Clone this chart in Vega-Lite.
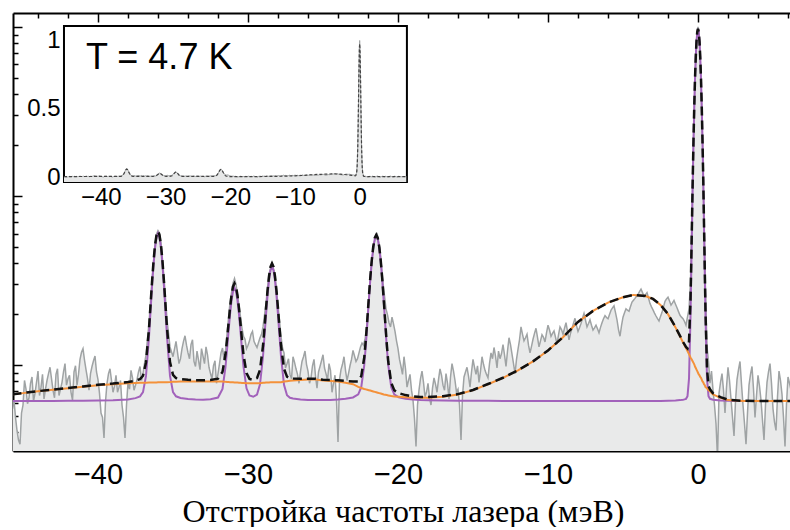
{
"$schema": "https://vega.github.io/schema/vega-lite/v6.json",
"width": 780, "height": 438,
"padding": {"left": 12, "top": 12, "right": 0, "bottom": 0},
"background": "white",
"config": {"view": {"stroke": null}, "axis": {"grid": false, "labelFont": "Liberation Sans", "titleFont": "Liberation Serif", "labelColor": "black", "tickColor": "black", "domainColor": "black", "titleColor": "black", "zindex": 1, "labelFlush": false, "labelOverlap": false}},
"datasets": {
"raw": [
{"x":-45.7,"y":0.0055},{"x":-45.6,"y":0.0062},{"x":-45.4,"y":0.0041},{"x":-45.2,"y":0.0034},{"x":-45.0,"y":0.0058},{"x":-44.8,"y":0.0072},{"x":-44.6,"y":0.0064},{"x":-44.4,"y":0.0085},{"x":-44.2,"y":0.0068},{"x":-44.0,"y":0.0092},{"x":-43.8,"y":0.0074},{"x":-43.6,"y":0.0063},{"x":-43.4,"y":0.0081},{"x":-43.2,"y":0.0097},{"x":-43.0,"y":0.0071},{"x":-42.8,"y":0.0088},{"x":-42.6,"y":0.0066},{"x":-42.4,"y":0.0079},{"x":-42.2,"y":0.0102},{"x":-42.0,"y":0.0083},{"x":-41.8,"y":0.0069},{"x":-41.6,"y":0.0091},{"x":-41.4,"y":0.0076},{"x":-41.2,"y":0.0108},{"x":-41.0,"y":0.0125},{"x":-40.8,"y":0.0094},{"x":-40.6,"y":0.0071},{"x":-40.4,"y":0.0098},{"x":-40.2,"y":0.0113},{"x":-40.0,"y":0.0082},{"x":-39.8,"y":0.0052},{"x":-39.6,"y":0.0037},{"x":-39.4,"y":0.0078},{"x":-39.2,"y":0.0095},{"x":-39.0,"y":0.0069},{"x":-38.8,"y":0.0087},{"x":-38.6,"y":0.0074},{"x":-38.4,"y":0.0058},{"x":-38.2,"y":0.0037},{"x":-38.0,"y":0.0079},{"x":-37.8,"y":0.0093},{"x":-37.6,"y":0.0071},{"x":-37.4,"y":0.0082},{"x":-37.2,"y":0.0098},{"x":-37.0,"y":0.0089},{"x":-36.8,"y":0.0115},{"x":-36.6,"y":0.0178},{"x":-36.4,"y":0.032},{"x":-36.2,"y":0.052},{"x":-36.1,"y":0.0595},{"x":-36.0,"y":0.0625},{"x":-35.9,"y":0.0605},{"x":-35.8,"y":0.053},{"x":-35.6,"y":0.033},{"x":-35.4,"y":0.0185},{"x":-35.2,"y":0.0128},{"x":-35.0,"y":0.0112},{"x":-34.8,"y":0.0138},{"x":-34.6,"y":0.0102},{"x":-34.4,"y":0.0125},{"x":-34.2,"y":0.0149},{"x":-34.0,"y":0.0118},{"x":-33.8,"y":0.0132},{"x":-33.6,"y":0.0105},{"x":-33.4,"y":0.0121},{"x":-33.2,"y":0.0094},{"x":-33.0,"y":0.0113},{"x":-32.8,"y":0.0128},{"x":-32.6,"y":0.0097},{"x":-32.4,"y":0.0083},{"x":-32.2,"y":0.0106},{"x":-32.0,"y":0.0089},{"x":-31.8,"y":0.0118},{"x":-31.6,"y":0.0108},{"x":-31.4,"y":0.0152},{"x":-31.2,"y":0.0235},{"x":-31.0,"y":0.0305},{"x":-30.9,"y":0.0325},{"x":-30.8,"y":0.03},{"x":-30.6,"y":0.0225},{"x":-30.4,"y":0.0165},{"x":-30.2,"y":0.0142},{"x":-30.0,"y":0.0131},{"x":-29.8,"y":0.0152},{"x":-29.6,"y":0.0138},{"x":-29.4,"y":0.0127},{"x":-29.2,"y":0.0145},{"x":-29.0,"y":0.0168},{"x":-28.8,"y":0.0232},{"x":-28.6,"y":0.0345},{"x":-28.4,"y":0.0405},{"x":-28.2,"y":0.034},{"x":-28.0,"y":0.0225},{"x":-27.8,"y":0.0148},{"x":-27.6,"y":0.0118},{"x":-27.4,"y":0.0102},{"x":-27.2,"y":0.0088},{"x":-27.0,"y":0.0112},{"x":-26.8,"y":0.0095},{"x":-26.6,"y":0.0078},{"x":-26.4,"y":0.0105},{"x":-26.2,"y":0.0121},{"x":-26.0,"y":0.0092},{"x":-25.8,"y":0.0084},{"x":-25.6,"y":0.0108},{"x":-25.4,"y":0.0073},{"x":-25.2,"y":0.0098},{"x":-25.0,"y":0.0115},{"x":-24.8,"y":0.0089},{"x":-24.6,"y":0.0102},{"x":-24.4,"y":0.0069},{"x":-24.2,"y":0.0087},{"x":-24.0,"y":0.0035},{"x":-23.8,"y":0.0094},{"x":-23.6,"y":0.0112},{"x":-23.4,"y":0.0081},{"x":-23.2,"y":0.0099},{"x":-23.0,"y":0.0122},{"x":-22.8,"y":0.0105},{"x":-22.6,"y":0.0118},{"x":-22.4,"y":0.0135},{"x":-22.2,"y":0.0142},{"x":-22.0,"y":0.0215},{"x":-21.8,"y":0.0375},{"x":-21.6,"y":0.0525},{"x":-21.4,"y":0.0605},{"x":-21.2,"y":0.0485},{"x":-21.0,"y":0.0305},{"x":-20.8,"y":0.0215},{"x":-20.6,"y":0.0178},{"x":-20.4,"y":0.0192},{"x":-20.2,"y":0.0158},{"x":-20.0,"y":0.0125},{"x":-19.8,"y":0.0098},{"x":-19.6,"y":0.0112},{"x":-19.4,"y":0.0074},{"x":-19.2,"y":0.0088},{"x":-19.0,"y":0.0062},{"x":-18.8,"y":0.0033},{"x":-18.6,"y":0.0071},{"x":-18.4,"y":0.0092},{"x":-18.2,"y":0.0065},{"x":-18.0,"y":0.0078},{"x":-17.8,"y":0.0058},{"x":-17.6,"y":0.0084},{"x":-17.4,"y":0.0069},{"x":-17.2,"y":0.0095},{"x":-17.0,"y":0.0076},{"x":-16.8,"y":0.0089},{"x":-16.6,"y":0.0063},{"x":-16.4,"y":0.0102},{"x":-16.2,"y":0.0081},{"x":-16.0,"y":0.0072},{"x":-15.8,"y":0.0036},{"x":-15.6,"y":0.0085},{"x":-15.4,"y":0.0097},{"x":-15.2,"y":0.0074},{"x":-15.0,"y":0.0108},{"x":-14.8,"y":0.0088},{"x":-14.6,"y":0.0079},{"x":-14.4,"y":0.0112},{"x":-14.2,"y":0.0093},{"x":-14.0,"y":0.0084},{"x":-13.8,"y":0.0118},{"x":-13.6,"y":0.0127},{"x":-13.4,"y":0.0096},{"x":-13.2,"y":0.0109},{"x":-13.0,"y":0.0132},{"x":-12.8,"y":0.0098},{"x":-12.6,"y":0.0145},{"x":-12.4,"y":0.0116},{"x":-12.2,"y":0.0089},{"x":-12.0,"y":0.0124},{"x":-11.8,"y":0.0168},{"x":-11.6,"y":0.0139},{"x":-11.4,"y":0.0152},{"x":-11.2,"y":0.0118},{"x":-11.0,"y":0.0142},{"x":-10.8,"y":0.0165},{"x":-10.6,"y":0.0128},{"x":-10.4,"y":0.0151},{"x":-10.2,"y":0.0137},{"x":-10.0,"y":0.0172},{"x":-9.8,"y":0.0148},{"x":-9.6,"y":0.0159},{"x":-9.4,"y":0.0133},{"x":-9.2,"y":0.0168},{"x":-9.0,"y":0.0152},{"x":-8.8,"y":0.0178},{"x":-8.6,"y":0.0141},{"x":-8.4,"y":0.0165},{"x":-8.2,"y":0.0189},{"x":-8.0,"y":0.0158},{"x":-7.8,"y":0.0176},{"x":-7.6,"y":0.0202},{"x":-7.4,"y":0.0168},{"x":-7.2,"y":0.0185},{"x":-7.0,"y":0.0161},{"x":-6.8,"y":0.0172},{"x":-6.6,"y":0.0155},{"x":-6.4,"y":0.0178},{"x":-6.2,"y":0.0196},{"x":-6.0,"y":0.0188},{"x":-5.8,"y":0.0211},{"x":-5.6,"y":0.0224},{"x":-5.4,"y":0.0185},{"x":-5.2,"y":0.0148},{"x":-5.0,"y":0.0192},{"x":-4.8,"y":0.0215},{"x":-4.6,"y":0.0208},{"x":-4.4,"y":0.0236},{"x":-4.2,"y":0.0248},{"x":-4.0,"y":0.0262},{"x":-3.8,"y":0.0281},{"x":-3.6,"y":0.0255},{"x":-3.4,"y":0.0268},{"x":-3.2,"y":0.0231},{"x":-3.0,"y":0.0212},{"x":-2.8,"y":0.0195},{"x":-2.6,"y":0.0182},{"x":-2.4,"y":0.0205},{"x":-2.2,"y":0.0238},{"x":-2.0,"y":0.0252},{"x":-1.8,"y":0.0226},{"x":-1.6,"y":0.0241},{"x":-1.4,"y":0.0218},{"x":-1.2,"y":0.0197},{"x":-1.0,"y":0.0188},{"x":-0.8,"y":0.0172},{"x":-0.6,"y":0.0215},{"x":-0.5,"y":0.031},{"x":-0.4,"y":0.078},{"x":-0.3,"y":0.22},{"x":-0.2,"y":0.5},{"x":-0.1,"y":0.83},{"x":-0.05,"y":0.95},{"x":0,"y":1.0},{"x":0.05,"y":0.94},{"x":0.1,"y":0.82},{"x":0.2,"y":0.49},{"x":0.3,"y":0.215},{"x":0.4,"y":0.074},{"x":0.5,"y":0.028},{"x":0.6,"y":0.0128},{"x":0.7,"y":0.0105},{"x":0.8,"y":0.0078},{"x":0.9,"y":0.0092},{"x":1.0,"y":0.0071},{"x":1.2,"y":0.0045},{"x":1.3,"y":0.0028},{"x":1.4,"y":0.0068},{"x":1.6,"y":0.0089},{"x":1.8,"y":0.0052},{"x":2.0,"y":0.0097},{"x":2.2,"y":0.0063},{"x":2.4,"y":0.0038},{"x":2.6,"y":0.0082},{"x":2.8,"y":0.0105},{"x":3.0,"y":0.0058},{"x":3.2,"y":0.0034},{"x":3.4,"y":0.0076},{"x":3.6,"y":0.0098},{"x":3.8,"y":0.0049},{"x":4.0,"y":0.0087},{"x":4.2,"y":0.0062},{"x":4.4,"y":0.0036},{"x":4.6,"y":0.0079},{"x":4.8,"y":0.0102},{"x":5.0,"y":0.0055},{"x":5.2,"y":0.0041},{"x":5.4,"y":0.0092},{"x":5.6,"y":0.0067},{"x":5.8,"y":0.0033},{"x":6.0,"y":0.0085},{"x":6.2,"y":0.0071},{"x":6.4,"y":0.0058},{"x":6.6,"y":0.0064},{"x":6.8,"y":0.0072},{"x":7.0,"y":0.0061},{"x":7.2,"y":0.0066},
{"x":-45.5,"y":0.0049},{"x":-45.3,"y":0.0036},{"x":-45.1,"y":0.0052},{"x":-44.9,"y":0.0081},{"x":-44.7,"y":0.0059},{"x":-44.5,"y":0.0078},{"x":-44.3,"y":0.0061},{"x":-44.1,"y":0.0079},{"x":-43.9,"y":0.0066},{"x":-43.7,"y":0.0088},{"x":-43.5,"y":0.0072},{"x":-43.3,"y":0.0089},{"x":-43.1,"y":0.0083},{"x":-42.9,"y":0.0064},{"x":-42.7,"y":0.0095},{"x":-42.5,"y":0.0072},{"x":-42.3,"y":0.0091},{"x":-42.1,"y":0.0076},{"x":-41.9,"y":0.0087},{"x":-41.7,"y":0.0062},{"x":-41.5,"y":0.0099},{"x":-41.3,"y":0.0088},{"x":-41.1,"y":0.0119},{"x":-40.9,"y":0.0107},{"x":-40.7,"y":0.0083},{"x":-40.5,"y":0.0089},{"x":-40.3,"y":0.0106},{"x":-40.1,"y":0.0091},{"x":-39.9,"y":0.0068},{"x":-39.7,"y":0.0049},{"x":-39.5,"y":0.0061},{"x":-39.3,"y":0.0089},{"x":-39.1,"y":0.0081},{"x":-38.9,"y":0.0075},{"x":-38.7,"y":0.0069},{"x":-38.5,"y":0.0081},{"x":-38.3,"y":0.0049},{"x":-38.1,"y":0.0058},{"x":-37.9,"y":0.0072},{"x":-37.7,"y":0.0084},{"x":-37.5,"y":0.0076},{"x":-37.3,"y":0.0091},{"x":-37.1,"y":0.0081},{"x":-36.9,"y":0.0102},
{"x":-34.7,"y":0.0119},{"x":-34.5,"y":0.0109},{"x":-34.3,"y":0.0138},{"x":-34.1,"y":0.0131},{"x":-33.9,"y":0.0109},{"x":-33.7,"y":0.0141},{"x":-33.5,"y":0.0098},{"x":-33.3,"y":0.0107},{"x":-33.1,"y":0.0125},{"x":-32.9,"y":0.0102},{"x":-32.7,"y":0.0115},{"x":-32.5,"y":0.0089},{"x":-32.3,"y":0.0099},{"x":-32.1,"y":0.0078},{"x":-31.9,"y":0.0102},{"x":-31.7,"y":0.0126},{"x":-31.5,"y":0.0121},
{"x":-30.3,"y":0.0148},{"x":-30.1,"y":0.0125},{"x":-29.9,"y":0.0139},{"x":-29.7,"y":0.0158},{"x":-29.5,"y":0.0132},{"x":-29.3,"y":0.0136},{"x":-29.1,"y":0.0152},
{"x":-27.7,"y":0.0126},{"x":-27.5,"y":0.0096},{"x":-27.3,"y":0.0109},{"x":-27.1,"y":0.0083},{"x":-26.9,"y":0.0104},{"x":-26.7,"y":0.0088},{"x":-26.5,"y":0.0092},{"x":-26.3,"y":0.0112},{"x":-26.1,"y":0.0101},{"x":-25.9,"y":0.0078},{"x":-25.7,"y":0.0099},{"x":-25.5,"y":0.0086},{"x":-25.3,"y":0.0091},{"x":-25.1,"y":0.0106},{"x":-24.9,"y":0.0096},{"x":-24.7,"y":0.0081},{"x":-24.5,"y":0.0093},{"x":-24.3,"y":0.0078},{"x":-24.1,"y":0.0062},{"x":-23.9,"y":0.0082},{"x":-23.7,"y":0.0101},{"x":-23.5,"y":0.0093},{"x":-23.3,"y":0.0089},{"x":-23.1,"y":0.0108},{"x":-22.9,"y":0.0113},{"x":-22.7,"y":0.0109},{"x":-22.5,"y":0.0128},{"x":-22.3,"y":0.0131},{"x":-22.1,"y":0.0165},
{"x":-20.7,"y":0.0198},{"x":-20.5,"y":0.0168},{"x":-20.3,"y":0.0175},{"x":-20.1,"y":0.0139},{"x":-19.9,"y":0.0108},{"x":-19.7,"y":0.0088},{"x":-19.5,"y":0.0095},{"x":-19.3,"y":0.0081},{"x":-19.1,"y":0.0071},{"x":-18.9,"y":0.0048},{"x":-18.7,"y":0.0058},{"x":-18.5,"y":0.0083},{"x":-18.3,"y":0.0079},{"x":-18.1,"y":0.0069},{"x":-17.9,"y":0.0064},{"x":-17.7,"y":0.0073},{"x":-17.5,"y":0.0077},{"x":-17.3,"y":0.0082},{"x":-17.1,"y":0.0087},{"x":-16.9,"y":0.0071},{"x":-16.7,"y":0.0078},{"x":-16.5,"y":0.0085},{"x":-16.3,"y":0.0092},{"x":-16.1,"y":0.0069},{"x":-15.9,"y":0.0058},{"x":-15.7,"y":0.0066},{"x":-15.5,"y":0.0091},{"x":-15.3,"y":0.0086},{"x":-15.1,"y":0.0091},{"x":-14.9,"y":0.0097},{"x":-14.7,"y":0.0099},{"x":-14.5,"y":0.0092},{"x":-14.3,"y":0.0101},{"x":-14.1,"y":0.0088},{"x":-13.9,"y":0.0102},{"x":-13.7,"y":0.0109},{"x":-13.5,"y":0.0113},{"x":-13.3,"y":0.0121},{"x":-13.1,"y":0.0117},{"x":-12.9,"y":0.0115},{"x":-12.7,"y":0.0121},{"x":-12.5,"y":0.0132},{"x":-12.3,"y":0.0102},{"x":-12.1,"y":0.0108},{"x":-11.9,"y":0.0141},{"x":-11.7,"y":0.0152},{"x":-11.5,"y":0.0145},{"x":-11.3,"y":0.0131},{"x":-11.1,"y":0.0129},{"x":-10.9,"y":0.0154},{"x":-10.7,"y":0.0146},{"x":-10.5,"y":0.0139},{"x":-10.3,"y":0.0146},{"x":-10.1,"y":0.0155},{"x":-9.9,"y":0.0161},{"x":-9.7,"y":0.0154},{"x":-9.5,"y":0.0146},{"x":-9.3,"y":0.0151},{"x":-9.1,"y":0.0162},{"x":-8.9,"y":0.0165},{"x":-8.7,"y":0.0158},{"x":-8.5,"y":0.0154},{"x":-8.3,"y":0.0177},{"x":-8.1,"y":0.0171},{"x":-7.9,"y":0.0166},{"x":-7.7,"y":0.0189},{"x":-7.5,"y":0.0184},{"x":-7.3,"y":0.0176},{"x":-7.1,"y":0.0172},{"x":-6.9,"y":0.0166},{"x":-6.7,"y":0.0164},{"x":-6.5,"y":0.0167},{"x":-6.3,"y":0.0188},{"x":-6.1,"y":0.0191},{"x":-5.9,"y":0.0199},{"x":-5.7,"y":0.0218},{"x":-5.5,"y":0.0204},{"x":-5.3,"y":0.0162},{"x":-5.1,"y":0.0171},{"x":-4.9,"y":0.0204},{"x":-4.7,"y":0.0211},{"x":-4.5,"y":0.0222},{"x":-4.3,"y":0.0242},{"x":-4.1,"y":0.0255},{"x":-3.9,"y":0.0272},{"x":-3.7,"y":0.0268},{"x":-3.5,"y":0.0261},{"x":-3.3,"y":0.0249},{"x":-3.1,"y":0.0221},{"x":-2.9,"y":0.0203},{"x":-2.7,"y":0.0188},{"x":-2.5,"y":0.0194},{"x":-2.3,"y":0.0221},{"x":-2.1,"y":0.0246},{"x":-1.9,"y":0.0239},{"x":-1.7,"y":0.0233},{"x":-1.5,"y":0.0229},{"x":-1.3,"y":0.0207},{"x":-1.1,"y":0.0192},{"x":-0.9,"y":0.0181},{"x":-0.7,"y":0.0193},
{"x":1.1,"y":0.0058},{"x":1.5,"y":0.0079},{"x":1.7,"y":0.0071},{"x":1.9,"y":0.0074},{"x":2.1,"y":0.0081},{"x":2.3,"y":0.0049},{"x":2.5,"y":0.0061},{"x":2.7,"y":0.0094},{"x":2.9,"y":0.0077},{"x":3.1,"y":0.0045},{"x":3.3,"y":0.0052},{"x":3.5,"y":0.0088},{"x":3.7,"y":0.0072},{"x":3.9,"y":0.0066},{"x":4.1,"y":0.0075},{"x":4.3,"y":0.0047},{"x":4.5,"y":0.0058},{"x":4.7,"y":0.0091},{"x":4.9,"y":0.0078},{"x":5.1,"y":0.0046},{"x":5.3,"y":0.0065},{"x":5.5,"y":0.0081},{"x":5.7,"y":0.0049},{"x":5.9,"y":0.0059},{"x":6.1,"y":0.0078},{"x":6.3,"y":0.0063},{"x":6.5,"y":0.0061},{"x":6.7,"y":0.0069},{"x":6.9,"y":0.0066},{"x":7.1,"y":0.0063}
],
"fit": [
{"x":-45.7,"p":0.00613,"o":0.0067,"t":0.0067},{"x":-45,"p":0.00613,"o":0.00682,"t":0.00683},{"x":-44,"p":0.00613,"o":0.007,"t":0.00701},{"x":-43,"p":0.00613,"o":0.00715,"t":0.00716},{"x":-42,"p":0.00614,"o":0.0073,"t":0.00732},{"x":-41,"p":0.00614,"o":0.00745,"t":0.00747},{"x":-40,"p":0.00616,"o":0.0076,"t":0.00764},{"x":-39,"p":0.00619,"o":0.0077,"t":0.00777},{"x":-38,"p":0.00626,"o":0.0078,"t":0.00794},{"x":-37.5,"p":0.00637,"o":0.00783,"t":0.00808},{"x":-37.2,"p":0.00653,"o":0.00785,"t":0.00826},{"x":-37.0,"p":0.00691,"o":0.00785,"t":0.00864},{"x":-36.8,"p":0.00862,"o":0.00786,"t":0.01036},{"x":-36.6,"p":0.01471,"o":0.00788,"t":0.01647},{"x":-36.5,"p":0.02078,"o":0.00788,"t":0.02254},{"x":-36.4,"p":0.02912,"o":0.00788,"t":0.03088},{"x":-36.3,"p":0.03912,"o":0.00789,"t":0.04088},{"x":-36.2,"p":0.04922,"o":0.00789,"t":0.05098},{"x":-36.1,"p":0.05702,"o":0.00789,"t":0.05878},{"x":-36.0,"p":0.06012,"o":0.0079,"t":0.06188},{"x":-35.9,"p":0.05702,"o":0.0079,"t":0.0588},{"x":-35.8,"p":0.04922,"o":0.0079,"t":0.05102},{"x":-35.7,"p":0.03912,"o":0.00791,"t":0.04092},{"x":-35.6,"p":0.02912,"o":0.00791,"t":0.03092},{"x":-35.5,"p":0.02078,"o":0.00791,"t":0.0226},{"x":-35.4,"p":0.01471,"o":0.00792,"t":0.01653},{"x":-35.2,"p":0.00862,"o":0.00793,"t":0.01042},{"x":-35.0,"p":0.00691,"o":0.00795,"t":0.00874},{"x":-34.8,"p":0.00653,"o":0.00796,"t":0.00837},{"x":-34.5,"p":0.00639,"o":0.00798,"t":0.00825},{"x":-34,"p":0.00629,"o":0.008,"t":0.00817},{"x":-33.5,"p":0.00625,"o":0.008,"t":0.00813},{"x":-33,"p":0.00624,"o":0.008,"t":0.00812},{"x":-32.5,"p":0.00628,"o":0.008,"t":0.00816},{"x":-32,"p":0.00642,"o":0.008,"t":0.0083},{"x":-31.7,"p":0.00723,"o":0.008,"t":0.00911},{"x":-31.5,"p":0.00975,"o":0.00795,"t":0.01158},{"x":-31.4,"p":0.01227,"o":0.00794,"t":0.0141},{"x":-31.3,"p":0.01573,"o":0.00793,"t":0.01756},{"x":-31.2,"p":0.01988,"o":0.00792,"t":0.02168},{"x":-31.1,"p":0.02407,"o":0.00791,"t":0.02586},{"x":-31.0,"p":0.02731,"o":0.0079,"t":0.02909},{"x":-30.9,"p":0.0286,"o":0.00789,"t":0.03037},{"x":-30.8,"p":0.02732,"o":0.00788,"t":0.02908},{"x":-30.7,"p":0.02408,"o":0.00787,"t":0.02583},{"x":-30.6,"p":0.0199,"o":0.00786,"t":0.02164},{"x":-30.5,"p":0.01576,"o":0.00785,"t":0.01749},{"x":-30.4,"p":0.0123,"o":0.00784,"t":0.01402},{"x":-30.3,"p":0.00979,"o":0.00783,"t":0.0115},{"x":-30.1,"p":0.00728,"o":0.00781,"t":0.00897},{"x":-29.9,"p":0.0066,"o":0.0078,"t":0.00828},{"x":-29.65,"p":0.00649,"o":0.0078,"t":0.00817},{"x":-29.4,"p":0.00669,"o":0.0078,"t":0.00837},{"x":-29.2,"p":0.00768,"o":0.0078,"t":0.00936},{"x":-29.0,"p":0.01127,"o":0.00785,"t":0.013},{"x":-28.9,"p":0.01487,"o":0.00786,"t":0.01661},{"x":-28.8,"p":0.0198,"o":0.00787,"t":0.02155},{"x":-28.7,"p":0.02572,"o":0.00788,"t":0.02748},{"x":-28.6,"p":0.03171,"o":0.00789,"t":0.03348},{"x":-28.5,"p":0.03635,"o":0.0079,"t":0.03813},{"x":-28.4,"p":0.03816,"o":0.0079,"t":0.03994},{"x":-28.3,"p":0.03634,"o":0.0079,"t":0.03812},{"x":-28.2,"p":0.0317,"o":0.0079,"t":0.03348},{"x":-28.1,"p":0.02571,"o":0.0079,"t":0.02749},{"x":-28.0,"p":0.01979,"o":0.0079,"t":0.02157},{"x":-27.9,"p":0.01485,"o":0.00791,"t":0.01664},{"x":-27.8,"p":0.01125,"o":0.00792,"t":0.01305},{"x":-27.6,"p":0.00764,"o":0.00798,"t":0.0095},{"x":-27.4,"p":0.00663,"o":0.00802,"t":0.00853},{"x":-27.2,"p":0.0064,"o":0.00806,"t":0.00834},{"x":-27,"p":0.00634,"o":0.0081,"t":0.00832},{"x":-26.5,"p":0.00626,"o":0.00815,"t":0.00829},{"x":-26,"p":0.00622,"o":0.0082,"t":0.0083},{"x":-25.5,"p":0.00621,"o":0.0082,"t":0.00829},{"x":-25,"p":0.00621,"o":0.0081,"t":0.00819},{"x":-24.5,"p":0.00622,"o":0.00805,"t":0.00815},{"x":-24,"p":0.00625,"o":0.008,"t":0.00813},{"x":-23.5,"p":0.00631,"o":0.00785,"t":0.00804},{"x":-23,"p":0.00643,"o":0.0077,"t":0.008},{"x":-22.65,"p":0.0067,"o":0.00742,"t":0.008},{"x":-22.45,"p":0.0074,"o":0.00732,"t":0.0086},{"x":-22.25,"p":0.01,"o":0.00722,"t":0.0111},{"x":-22.15,"p":0.01288,"o":0.00718,"t":0.01394},{"x":-22.05,"p":0.01735,"o":0.00714,"t":0.01837},{"x":-21.95,"p":0.0237,"o":0.0071,"t":0.02468},{"x":-21.85,"p":0.03172,"o":0.00706,"t":0.03266},{"x":-21.75,"p":0.04072,"o":0.00702,"t":0.04162},{"x":-21.65,"p":0.04932,"o":0.00698,"t":0.05018},{"x":-21.55,"p":0.05572,"o":0.00694,"t":0.05654},{"x":-21.45,"p":0.05812,"o":0.0069,"t":0.0589},{"x":-21.35,"p":0.05572,"o":0.00686,"t":0.05646},{"x":-21.25,"p":0.04932,"o":0.00682,"t":0.05002},{"x":-21.15,"p":0.04072,"o":0.00678,"t":0.04138},{"x":-21.05,"p":0.03172,"o":0.00674,"t":0.03234},{"x":-20.95,"p":0.0237,"o":0.0067,"t":0.02428},{"x":-20.85,"p":0.01735,"o":0.00667,"t":0.0179},{"x":-20.75,"p":0.01288,"o":0.00664,"t":0.0134},{"x":-20.65,"p":0.01,"o":0.00661,"t":0.01049},{"x":-20.45,"p":0.0074,"o":0.00655,"t":0.00783},{"x":-20.25,"p":0.0067,"o":0.00651,"t":0.00709},{"x":-19.95,"p":0.00644,"o":0.0065,"t":0.00682},{"x":-19.5,"p":0.00631,"o":0.00645,"t":0.00664},{"x":-19,"p":0.00625,"o":0.0064,"t":0.00653},{"x":-18.5,"p":0.0062,"o":0.0064,"t":0.00648},{"x":-18,"p":0.00618,"o":0.0064,"t":0.00646},{"x":-17,"p":0.00616,"o":0.0065,"t":0.00654},{"x":-16,"p":0.00615,"o":0.0067,"t":0.00673},{"x":-15,"p":0.00614,"o":0.0071,"t":0.00712},{"x":-14,"p":0.00614,"o":0.0077,"t":0.00772},{"x":-13,"p":0.00613,"o":0.0084,"t":0.00841},{"x":-12,"p":0.00613,"o":0.0093,"t":0.00931},{"x":-11,"p":0.00613,"o":0.0105,"t":0.01051},{"x":-10,"p":0.00613,"o":0.0122,"t":0.0122},{"x":-9,"p":0.00613,"o":0.0146,"t":0.0146},{"x":-8,"p":0.00613,"o":0.018,"t":0.018},{"x":-7,"p":0.00613,"o":0.0209,"t":0.0209},{"x":-6,"p":0.00613,"o":0.0234,"t":0.0234},{"x":-5,"p":0.00613,"o":0.0252,"t":0.0252},{"x":-4.3,"p":0.00613,"o":0.026,"t":0.026},{"x":-3.5,"p":0.00613,"o":0.0256,"t":0.0256},{"x":-3,"p":0.00613,"o":0.0246,"t":0.0246},{"x":-2.5,"p":0.00613,"o":0.0227,"t":0.0227},{"x":-2,"p":0.00615,"o":0.02,"t":0.02003},{"x":-1.5,"p":0.00617,"o":0.0167,"t":0.01675},{"x":-1.2,"p":0.0062,"o":0.0148,"t":0.01488},{"x":-1.0,"p":0.00623,"o":0.0136,"t":0.01371},{"x":-0.9,"p":0.00626,"o":0.0131,"t":0.01324},{"x":-0.8,"p":0.00631,"o":0.0126,"t":0.01279},{"x":-0.7,"p":0.00654,"o":0.0121,"t":0.01252},{"x":-0.6,"p":0.00831,"o":0.0116,"t":0.01379},{"x":-0.5,"p":0.01927,"o":0.0111,"t":0.02425},{"x":-0.45,"p":0.03562,"o":0.0109,"t":0.0404},{"x":-0.4,"p":0.06722,"o":0.0107,"t":0.0718},{"x":-0.35,"p":0.1231,"o":0.0105,"t":0.1275},{"x":-0.3,"p":0.2111,"o":0.0103,"t":0.2153},{"x":-0.25,"p":0.3341,"o":0.0101,"t":0.3381},{"x":-0.2,"p":0.4901,"o":0.0098,"t":0.4938},{"x":-0.15,"p":0.6611,"o":0.0096,"t":0.6646},{"x":-0.1,"p":0.8191,"o":0.0094,"t":0.8224},{"x":-0.05,"p":0.9321,"o":0.0092,"t":0.9352},{"x":0,"p":0.9731,"o":0.009,"t":0.976},{"x":0.05,"p":0.9321,"o":0.0088,"t":0.9348},{"x":0.1,"p":0.8191,"o":0.0087,"t":0.8217},{"x":0.15,"p":0.6611,"o":0.0085,"t":0.6635},{"x":0.2,"p":0.4901,"o":0.0084,"t":0.4924},{"x":0.25,"p":0.3341,"o":0.0082,"t":0.3362},{"x":0.3,"p":0.2111,"o":0.008,"t":0.213},{"x":0.35,"p":0.1231,"o":0.0079,"t":0.1249},{"x":0.4,"p":0.06722,"o":0.0077,"t":0.0688},{"x":0.45,"p":0.03562,"o":0.0076,"t":0.0371},{"x":0.5,"p":0.01927,"o":0.0074,"t":0.02055},{"x":0.6,"p":0.00831,"o":0.0073,"t":0.00949},{"x":0.7,"p":0.00654,"o":0.0071,"t":0.00752},{"x":0.8,"p":0.00631,"o":0.007,"t":0.00719},{"x":1.0,"p":0.00623,"o":0.0067,"t":0.00681},{"x":1.5,"p":0.00617,"o":0.0064,"t":0.00645},{"x":2,"p":0.00615,"o":0.0062,"t":0.00623},{"x":3,"p":0.00613,"o":0.00613,"t":0.00614},{"x":4,"p":0.00612,"o":0.00612,"t":0.00612},{"x":5,"p":0.00612,"o":0.00612,"t":0.00612},{"x":6,"p":0.00612,"o":0.00612,"t":0.00612},{"x":7.3,"p":0.00612,"o":0.00612,"t":0.00612}
]
},
"layer": [
{
"layer": [
{"data": {"name": "raw"}, "mark": {"type": "area", "color": "#e9eaea", "clip": true},
 "encoding": {
  "x": {"field": "x", "type": "quantitative", "scale": {"domain": [-45.667, 6.333], "nice": false, "zero": false},
        "axis": {"orient": "bottom", "values": [-40,-30,-20,-10,0], "tickSize": -9, "tickWidth": 1.5, "domainWidth": 2, "labelFontSize": 29, "labelPadding": 18, "title": "Отстройка частоты лазера (мэВ)", "titleFontSize": 32, "titleFontWeight": "normal", "titlePadding": 7}},
  "y": {"field": "y", "type": "quantitative", "scale": {"type": "log", "domain": [0.0031, 1.21], "nice": false},
        "axis": {"orient": "left", "values": [0.01, 0.1, 1], "tickSize": -9, "tickWidth": 1.5, "labels": false, "title": null, "domainWidth": 2}},
  "y2": {"datum": 0.0031}
 }},
{"data": {"name": "raw"}, "mark": {"type": "line", "color": "#9fa3a4", "strokeWidth": 1.5, "clip": true},
 "encoding": {
  "x": {"field": "x", "type": "quantitative", "axis": {"orient": "bottom", "values": [-44,-42,-38,-36,-34,-32,-28,-26,-24,-22,-18,-16,-14,-12,-8,-6,-4,-2,2,4,6], "tickSize": -5, "tickWidth": 1.5, "labels": false, "domain": false, "title": null}},
  "y": {"field": "y", "type": "quantitative", "axis": {"orient": "left", "values": [0.004,0.005,0.006,0.007,0.008,0.009,0.02,0.03,0.04,0.05,0.06,0.07,0.08,0.09,0.2,0.3,0.4,0.5,0.6,0.7,0.8,0.9], "tickSize": -5, "tickWidth": 1.5, "labels": false, "domain": false, "title": null}}
 }},
{"data": {"name": "fit"}, "mark": {"type": "line", "color": "#a262bb", "strokeWidth": 2, "clip": true},
 "encoding": {
  "x": {"field": "x", "type": "quantitative", "axis": {"orient": "top", "values": [-40,-30,-20,-10,0], "tickSize": -9, "tickWidth": 1.5, "labels": false, "domainWidth": 2, "title": null}},
  "y": {"field": "p", "type": "quantitative", "axis": null}
 }},
{"data": {"name": "fit"}, "mark": {"type": "line", "color": "#f4913a", "strokeWidth": 2, "clip": true},
 "encoding": {
  "x": {"field": "x", "type": "quantitative", "axis": {"orient": "top", "values": [-44,-42,-38,-36,-34,-32,-28,-26,-24,-22,-18,-16,-14,-12,-8,-6,-4,-2,2,4,6], "tickSize": -5, "tickWidth": 1.5, "labels": false, "domain": false, "title": null}},
  "y": {"field": "o", "type": "quantitative", "axis": null}
 }},
{"data": {"name": "fit"}, "mark": {"type": "line", "color": "#111111", "strokeWidth": 2.5, "strokeDash": [9, 5], "clip": true},
 "encoding": {
  "x": {"field": "x", "type": "quantitative", "axis": null},
  "y": {"field": "t", "type": "quantitative", "axis": null}
 }}
],
"resolve": {"axis": {"x": "independent", "y": "independent"}}
},
{
"layer": [
{"data": {"values": [{}]}, "mark": {"type": "rect", "fill": "white", "stroke": "black", "strokeWidth": 2},
 "encoding": {
  "x": {"datum": -45.7, "type": "quantitative", "scale": {"domain": [-53.58, 66.97], "nice": false, "zero": false}, "axis": null},
  "x2": {"datum": 7.3},
  "y": {"datum": -0.0328, "type": "quantitative", "scale": {"domain": [-1.9964, 1.2007], "nice": false, "zero": false}, "axis": null},
  "y2": {"datum": 1.1058}
 }},
{"data": {"name": "raw"}, "mark": {"type": "area", "color": "#e6e7e7"},
 "encoding": {
  "x": {"field": "x", "type": "quantitative",
        "axis": {"orient": "bottom", "offset": -269, "values": [-40,-30,-20,-10,0], "tickSize": -5, "tickWidth": 1.5, "labelFontSize": 24, "labelPadding": 8, "domain": false, "title": null}},
  "y": {"field": "y", "type": "quantitative",
        "axis": {"orient": "left", "offset": -51, "values": [0, 0.5, 1], "format": "~g", "tickSize": -5, "tickWidth": 1.5, "labelFontSize": 24, "labelPadding": 9, "domain": false, "title": null}},
  "y2": {"datum": -0.0328}}},
{"data": {"name": "raw"}, "mark": {"type": "line", "color": "#a0a3a4", "strokeWidth": 1},
 "encoding": {"x": {"field": "x", "type": "quantitative", "axis": null}, "y": {"field": "y", "type": "quantitative", "axis": null}}},
{"data": {"name": "fit"}, "mark": {"type": "line", "color": "#444444", "strokeWidth": 1.2, "strokeDash": [3, 2]},
 "encoding": {"x": {"field": "x", "type": "quantitative", "axis": null}, "y": {"field": "t", "type": "quantitative", "axis": null}}},
{"data": {"values": [{}]}, "mark": {"type": "text", "text": "T = 4.7 K", "font": "Liberation Sans", "fontSize": 36, "align": "left", "baseline": "alphabetic", "color": "black"},
 "encoding": {"x": {"datum": -42.3, "axis": null}, "y": {"datum": 0.79, "axis": null}}}
],
"resolve": {"axis": {"x": "independent", "y": "independent"}}
}
],
"resolve": {"scale": {"x": "independent", "y": "independent"}, "axis": {"x": "independent", "y": "independent"}}
}
